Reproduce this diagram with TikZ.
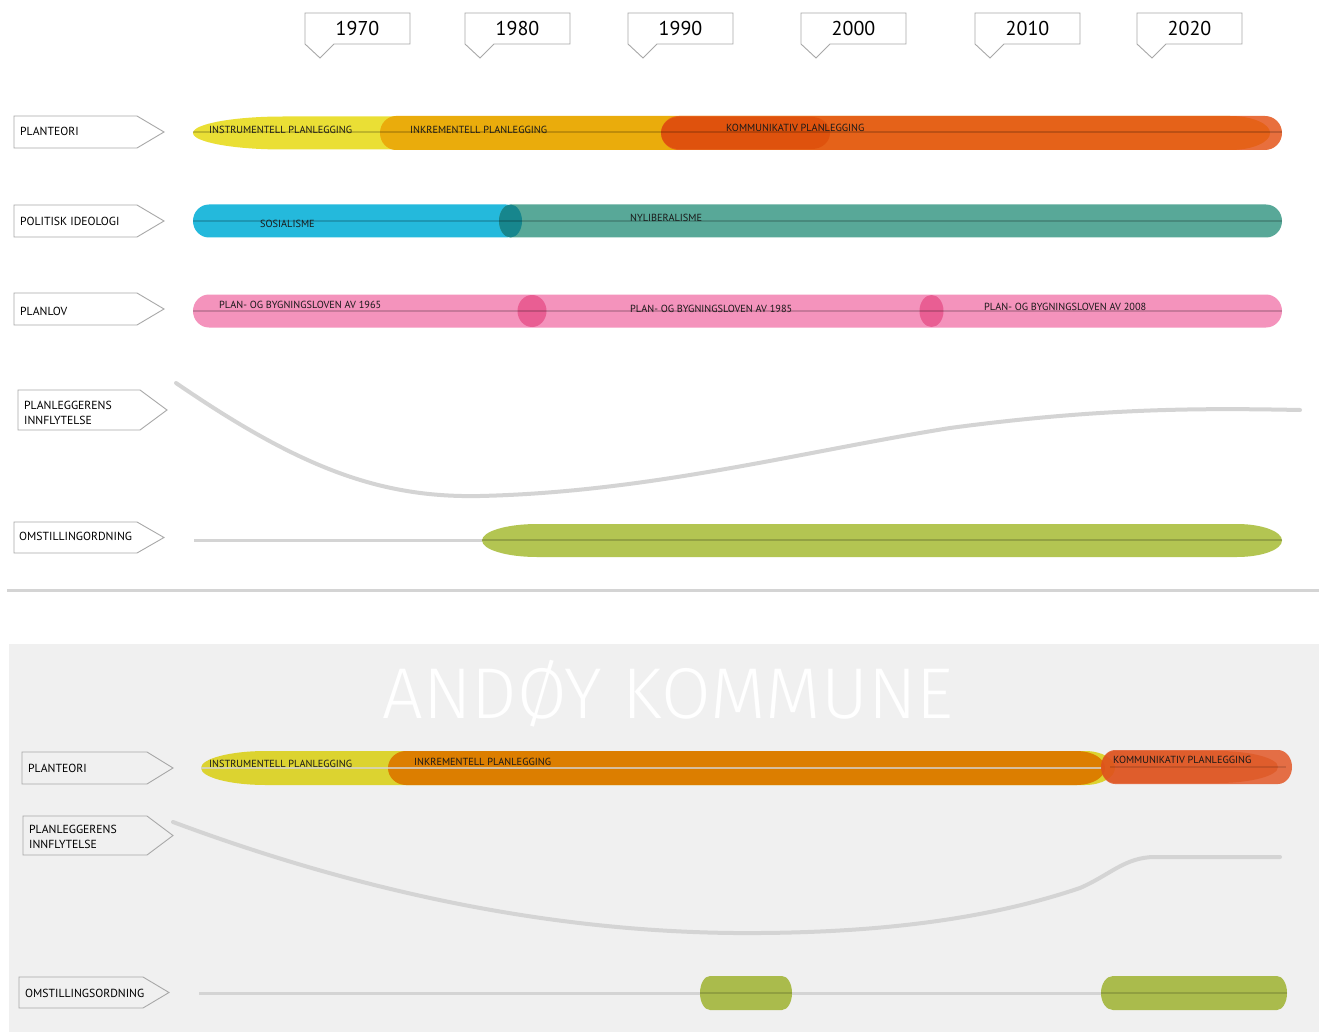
\documentclass[tikz,border=0pt]{standalone}
\usepackage{fontspec}
\setmainfont{PT Sans}
\newfontfamily\titlefont{Fira Sans Light}
\usetikzlibrary{calc}
\definecolor{boxgray}{HTML}{A8A8A8}
\definecolor{curvegray}{HTML}{D4D4D4}
\definecolor{yelA}{HTML}{EADF35}
\definecolor{goldA}{HTML}{EAAC0C}
\definecolor{redA}{HTML}{E5561C}
\definecolor{redD}{HTML}{D84000}
\definecolor{blueA}{HTML}{24B9DC}
\definecolor{tealA}{HTML}{58A898}
\definecolor{tealD}{HTML}{17868D}
\definecolor{pinkA}{HTML}{F493BC}
\definecolor{pinkD}{HTML}{E8558C}
\definecolor{greenA}{HTML}{B3C552}
\definecolor{greenB}{HTML}{AABB4C}
\definecolor{yelB}{HTML}{DCD330}
\definecolor{orB}{HTML}{DC7E00}
\definecolor{redB}{HTML}{E35D2E}
\definecolor{bgB}{HTML}{F0F0F0}
% pill: #1 style, #2 x1, #3 x2, #4 yc, #5 half height, #6 left radius, #7 right radius
\newcommand\pillshape[7]{%
  \fill[#1] ({#2+#6},{#4-#5}) -- ({#3-#7},{#4-#5})
    .. controls ({#3-0.448*#7},{#4-#5}) and ({#3},{#4-0.552*#5}) .. ({#3},{#4})
    .. controls ({#3},{#4+0.552*#5}) and ({#3-0.448*#7},{#4+#5}) .. ({#3-#7},{#4+#5})
    -- ({#2+#6},{#4+#5})
    .. controls ({#2+0.448*#6},{#4+#5}) and ({#2},{#4+0.552*#5}) .. ({#2},{#4})
    .. controls ({#2},{#4-0.552*#5}) and ({#2+0.448*#6},{#4-#5}) .. ({#2+#6},{#4-#5}) -- cycle;}
% label box: #1 name, #2 x1, #3 corner x, #4 tip x, #5 top, #6 bottom
\newcommand\labelbox[6]{%
  \draw[boxstroke] (#2,#5) -- (#3,#5) -- (#4,{(#5+#6)/2}) -- (#3,#6) -- (#2,#6) -- cycle;
  \coordinate (#1) at (#2,{(#5+#6)/2});}
% year box: #1 name, #2 x1, #3 x2, #4 text
\newcommand\yearbox[4]{%
  \draw[boxstroke] (#2,13) -- (#3,13) -- (#3,44) -- ({#2+29},44) -- ({#2+15},58) -- (#2,44) -- cycle;
  \node[yeartext] (#1) at ({(#2+#3)/2},29) {#4};}
\tikzset{
  boxstroke/.style={draw=boxgray, line width=0.9pt},
  yeartext/.style={font=\fontsize{20}{22}\selectfont, text=black, inner sep=0pt},
  lbltext/.style={font=\fontsize{11.7}{15}\selectfont, text=black, anchor=west, inner sep=0pt, align=left},
  bartext/.style={font=\fontsize{10.3}{12}\selectfont, text=black!90, anchor=west, inner sep=0pt},
  midline/.style={line width=2pt, black, opacity=0.18},
  infl/.style={draw=curvegray, line width=4pt, line cap=round},
}
\begin{document}
\begin{tikzpicture}[x=1pt,y=-1pt]
\useasboundingbox (0,0) rectangle (1319,1032);
\fill[white] (0,0) rectangle (1319,1032);

% ---------- years
\yearbox{y1970}{305}{410}{1970}
\yearbox{y1980}{465}{570}{1980}
\yearbox{y1990}{628}{733}{1990}
\yearbox{y2000}{801}{906}{2000}
\yearbox{y2010}{975}{1080}{2010}
\yearbox{y2020}{1137}{1242}{2020}

% ---------- labels top
\labelbox{lPT}{14}{137}{164}{116}{148}
\node[lbltext] (tPT) at (20,131) {PLANTEORI};
\labelbox{lPI}{14}{137}{164}{205}{237}
\node[lbltext] (tPI) at (20,221) {POLITISK IDEOLOGI};
\labelbox{lPL}{14}{137}{164}{293}{325}
\node[lbltext] (tPL) at (20,311) {PLANLOV};
\labelbox{lIN}{18}{140}{167}{390}{430}
\node[lbltext] (tIN) at (24,412.5) {PLANLEGGERENS\\INNFLYTELSE};
\labelbox{lOM}{14}{137}{164}{522}{553}
\node[lbltext] (tOM) at (19,536) {OMSTILLINGORDNING};

% ---------- planteori top
\pillshape{yelA}{193}{1270}{133}{16.5}{90}{40}
\pillshape{goldA}{380}{1270}{133}{17}{16}{40}
\pillshape{redA, opacity=0.85}{661}{1282}{133}{17}{18}{17}
\pillshape{redD, opacity=0.45}{661}{830}{133}{16}{18}{18}
\draw[midline] (193,132) -- (1282,132);
\node[bartext] (b1) at (209,130) {INSTRUMENTELL PLANLEGGING};
\node[bartext] (b2) at (410,130) {INKREMENTELL PLANLEGGING};
\node[bartext] (b3) at (726,128) {KOMMUNIKATIV PLANLEGGING};

% ---------- politisk ideologi
\pillshape{blueA}{193}{522}{221}{16.5}{16}{16}
\pillshape{tealA}{499}{1282}{221}{16.5}{12}{16}
\pillshape{tealD}{499}{522}{221}{16.5}{11.5}{11.5}
\draw[midline] (193,221) -- (1282,221);
\node[bartext] (b4) at (260,224) {SOSIALISME};
\node[bartext] (b5) at (630,218) {NYLIBERALISME};

% ---------- planlov
\pillshape{pinkA}{193}{1282}{311}{16.5}{16}{16}
\fill[pinkD, opacity=0.85] (532,311) ellipse [x radius=14.5pt, y radius=16pt];
\fill[pinkD, opacity=0.85] (931.5,311) ellipse [x radius=12pt, y radius=16pt];
\draw[midline] (193,311) -- (1282,311);
\node[bartext] (b6) at (219,305) {PLAN- OG BYGNINGSLOVEN AV 1965};
\node[bartext] (b7) at (630,309) {PLAN- OG BYGNINGSLOVEN AV 1985};
\node[bartext] (b8) at (984,307) {PLAN- OG BYGNINGSLOVEN AV 2008};

% ---------- innflytelse curve
\coordinate (c1s) at (176,383);
\coordinate (c1m) at (480,496);
\coordinate (c1e) at (1300,410);
\draw[infl] (c1s) .. controls (300,468) and (380,498) .. (c1m)
  .. controls (650,492) and (800,452) .. (950,428)
  .. controls (1100,408) and (1200,408) .. (c1e);

% ---------- omstilling top
\draw[draw=curvegray, line width=3pt] (194,540) -- (490,540);
\pillshape{greenA}{482}{1282}{540.5}{16.5}{55}{45}
\draw[line width=2pt, black, opacity=0.18] (482,540) -- (1282,540);

% ---------- separator
\draw[draw=curvegray, line width=3pt] (7,590) -- (1319,590);

% ---------- bottom section
\fill[bgB] (9,644) rectangle (1319,1032);
\node[font=\titlefont\fontsize{72}{76}\selectfont, text=white, inner sep=0pt] (title) at (668,694) {ANDØY KOMMUNE};

\labelbox{mPT}{22}{147}{173}{752}{784}
\node[lbltext] (uPT) at (28,768) {PLANTEORI};
\labelbox{mIN}{23}{147}{173}{816}{855}
\node[lbltext] (uIN) at (29,836.5) {PLANLEGGERENS\\INNFLYTELSE};
\labelbox{mOM}{19}{143}{169}{977}{1008}
\node[lbltext] (uOM) at (25,993) {OMSTILLINGSORDNING};

\pillshape{yelB}{201}{1115}{768}{17}{65}{30}
\pillshape{orB}{388}{1105}{768}{17}{18}{28}
\draw[line width=2pt, draw=curvegray, opacity=0.75] (201,768) -- (1102,768);
\pillshape{redB, opacity=0.88}{1101}{1292}{767}{17}{14}{14}
\pillshape{redD, opacity=0.35}{1101}{1278}{767}{16}{14}{60}
\draw[line width=2pt, black, opacity=0.12] (1110,767) -- (1286,767);
\node[bartext] (m1) at (209,764) {INSTRUMENTELL PLANLEGGING};
\node[bartext] (m2) at (414,762) {INKREMENTELL PLANLEGGING};
\node[bartext] (m3) at (1113,760) {KOMMUNIKATIV PLANLEGGING};

\coordinate (c2s) at (173,822);
\coordinate (c2m) at (760,933);
\coordinate (c2k) at (1155,857);
\coordinate (c2e) at (1280,857);
\draw[infl] (c2s) .. controls (350,888) and (550,935) .. (c2m)
  .. controls (900,932) and (1000,915) .. (1080,888)
  .. controls (1110,875) and (1125,857) .. (c2k) -- (c2e);

\draw[draw=curvegray, line width=3pt] (199,993) -- (1285,993);
\pillshape{greenB}{700}{792}{993}{17}{10}{10}
\pillshape{greenB}{1101}{1287}{993}{17}{12}{10}
\draw[line width=2pt, black, opacity=0.15] (700,993) -- (792,993);
\draw[line width=2pt, black, opacity=0.15] (1101,993) -- (1287,993);
\end{tikzpicture}
\end{document}
